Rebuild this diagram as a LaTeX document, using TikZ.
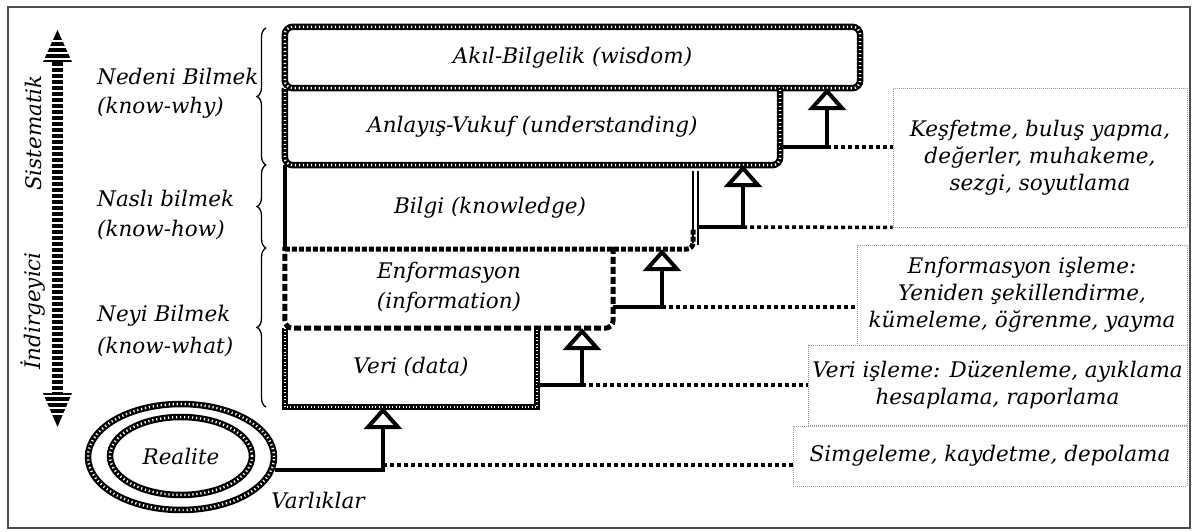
\documentclass[tikz,border=0pt]{standalone}
\usepackage{fontspec}
\setmainfont{DejaVu Serif}
\usetikzlibrary{arrows.meta,decorations.pathreplacing,shapes.geometric,calc}
\begin{document}
\begin{tikzpicture}[x=1pt,y=-1pt,
  every node/.style={font=\fontsize{21.5}{27}\selectfont\itshape, inner sep=0pt},
  boxtext/.style={align=center},
  note/.style={draw=gray!80, line width=0.9, dash pattern=on 1 off 1, align=center, font=\fontsize{21.5}{27}\selectfont\itshape},
  texA/.style={draw=black, line width=6.5, postaction={draw=white, line width=2.4, dash pattern=on 1.2 off 2.8}},
  texB/.style={draw=black, line width=5.5, postaction={draw=white, line width=2, dash pattern=on 1 off 2.4}},
  hdash/.style={draw=black, line width=5, dash pattern=on 7 off 3},
  sqdash/.style={draw=black, line width=5, dash pattern=on 5 off 2},
  conn/.style={draw=black, line width=4, -{Triangle[open, length=22pt, width=38pt]}},
  dotl/.style={draw=black, line width=3.5, dash pattern=on 4 off 3},
  brc/.style={draw=black, line width=1.3, decorate, decoration={brace, amplitude=9pt}}
]
\useasboundingbox (0,0) rectangle (1192,532);
\draw[line width=2, gray!60!black] (8,7) rectangle (1190,528);

% vertical double arrow
\draw[line width=11, dash pattern=on 4 off 2] (57.5,62) -- (57.5,393);
\fill (57.5,30) -- (72,62) -- (43,62) -- cycle;
\fill (57.5,427) -- (72,393) -- (43,393) -- cycle;
\foreach \yy in {41,47,53,59} {\draw[white, line width=1.2] (42,\yy) -- (73,\yy);}
\foreach \yy in {396,402,408,414} {\draw[white, line width=1.2] (42,\yy) -- (73,\yy);}
\node[rotate=90] (sis) at (33,133) {Sistematik};
\node[rotate=90] (ind) at (33,311) {İndirgeyici};

% left labels
\node[align=left, anchor=west, font=\fontsize{21.5}{29}\selectfont\itshape] (why) at (97,93) {Nedeni Bilmek\\(know-why)};
\node[align=left, anchor=west, font=\fontsize{21.5}{30}\selectfont\itshape] (how) at (97,215) {Naslı bilmek\\(know-how)};
\node[align=left, anchor=west, font=\fontsize{21.5}{32}\selectfont\itshape] (what) at (97,331) {Neyi Bilmek\\(know-what)};

% braces
\draw[brc] (266,165) -- (266,28);
\draw[brc] (266,248) -- (266,165);
\draw[brc] (266,407) -- (266,248);

% main boxes (text nodes spanning box areas)
\node[boxtext, minimum width=575, minimum height=61] (akil) at (572.5,57.5) {Akıl-Bilgelik (wisdom)};
\node[boxtext, minimum width=495, minimum height=77] (anl) at (532.5,126.5) {Anlayış-Vukuf (understanding)};
\node[boxtext, minimum width=410, minimum height=82] (bilgi) at (490,208) {Bilgi (knowledge)};
\node[boxtext, minimum width=328, minimum height=81, font=\fontsize{21.5}{30}\selectfont\itshape] (enfo) at (449,287.5) {Enformasyon\\(information)};
\node[boxtext, minimum width=252, minimum height=79] (veri) at (411,367.5) {Veri (data)};

% borders
\draw[texA, rounded corners=8] (akil.south west) rectangle (akil.north east);
\draw[texA, rounded corners=8] (anl.north west) -- (anl.south west) -- (anl.south east) -- (anl.north east);
\draw[line width=4] ($(bilgi.north west)+(0,-2)$) -- (bilgi.south west);
\draw[sqdash, rounded corners=7] (bilgi.south west) -- ($(bilgi.south east)+(-2,0)$) -- ($(bilgi.east)+(-2,20)$);
\draw[line width=1.6] ($(bilgi.north east)+(-2,4)$) -- ($(bilgi.south east)+(-2,-6)$);
\draw[line width=1.6] ($(bilgi.north east)+(3,4)$) -- ($(bilgi.south east)+(3,-4)$);
\draw[hdash, rounded corners=8] (enfo.north east) -- (enfo.south east) -- (enfo.south west) -- (enfo.north west);
\draw[texB] (veri.north west) -- (veri.south west) -- (veri.south east) -- (veri.north east);

% Realite
\node[ellipse, minimum width=186, minimum height=106, texA] (real) at (181,457) {};
\node[ellipse, minimum width=142, minimum height=78, texA] (realin) at (181,456) {Realite};
\node (varl) at (318,500) {Varlıklar};

% note boxes
\node[note, minimum width=294, minimum height=139] (kesf) at (1040,157.5) {Keşfetme, buluş yapma,\\değerler, muhakeme,\\sezgi, soyutlama};
\node[note, minimum width=330, minimum height=100] (enfisl) at (1022,295) {Enformasyon işleme:\\Yeniden şekillendirme,\\kümeleme, öğrenme, yayma};
\node[note, minimum width=379, minimum height=80] (veriisl) at (997.5,385) {Veri işleme: Düzenleme, ayıklama\\hesaplama, raporlama};
\node[note, minimum width=394, minimum height=60] (simg) at (990,456) {Simgeleme, kaydetme, depolama};

% connectors
\coordinate (e1) at (383,465);
\coordinate (e2) at (582,385);
\coordinate (e3) at (662,307);
\coordinate (e4) at (743,227);
\coordinate (e5) at (827,147);
\draw[conn] (real.-8) -| (veri.south -| e1);
\draw[dotl] (e1) -- (simg.west |- e1);
\draw[conn] (veri.east |- e2) -| (enfo.south -| e2);
\draw[dotl] (e2) -- (veriisl.west |- e2);
\draw[conn] (enfo.east |- e3) -| (bilgi.south -| e3);
\draw[dotl] (e3) -- (enfisl.west |- e3);
\draw[conn] ($(bilgi.east |- e4)+(3,0)$) -| (anl.south -| e4);
\draw[dotl] (e4) -- (kesf.south west);
\draw[conn] (anl.east |- e5) -| (akil.south -| e5);
\draw[dotl] (e5) -- (kesf.west |- e5);
\end{tikzpicture}
\end{document}
